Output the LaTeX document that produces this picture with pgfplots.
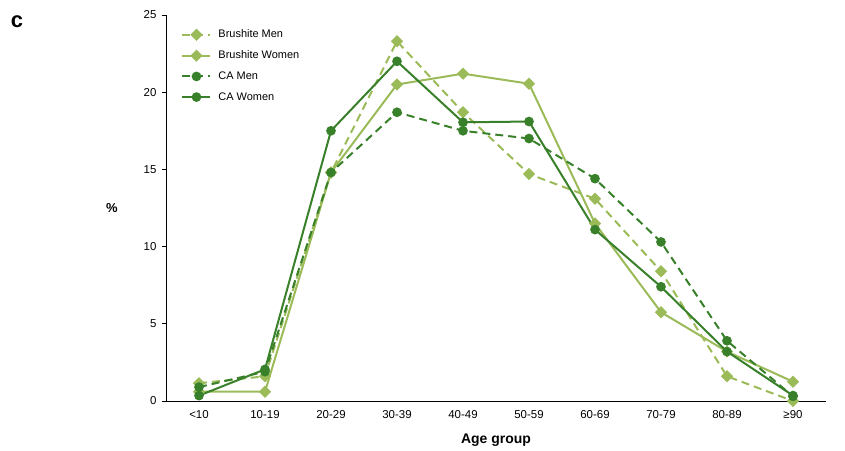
\documentclass[border=0pt]{standalone}
\usepackage{fontspec}
\setmainfont{Liberation Sans}
\usepackage{pgfplots}
\pgfplotsset{compat=1.18}
\definecolor{lightg}{RGB}{155,187,89}
\definecolor{darkg}{RGB}{56,128,42}
\begin{document}
\begin{tikzpicture}
\path[use as bounding box] (0bp,0bp) rectangle (845bp,451bp);
\node[font=\fontsize{22}{24}\selectfont\bfseries] at (17bp,429bp) {c};
\begin{axis}[
  at={(166bp,50bp)}, anchor=south west, scale only axis,
  width=660bp, height=386bp,
  xmin=-0.5, xmax=9.5, ymin=0, ymax=25,
  ytick={0,5,...,25}, xtick={0,...,9},
  xticklabels={<10,10-19,20-29,30-39,40-49,50-59,60-69,70-79,80-89,≥90},
  axis x line=bottom, axis y line=left,
  axis line style={-, line width=0.8bp},
  x tick style={draw=none},
  y tick style={black, line width=0.6bp},
  tick align=outside, major tick length=4bp,
  tick label style={font=\fontsize{11.5}{13}\selectfont},
  yticklabel style={xshift=-2bp},
  xticklabel style={yshift=-2bp},
  /pgf/number format/assume math mode=true,
  xlabel={Age group}, ylabel={\%},
  xlabel style={font=\fontsize{14}{16}\selectfont\bfseries, at={(axis description cs:0.5,-0.101)}, anchor=center},
  ylabel style={font=\fontsize{13}{15}\selectfont\bfseries, rotate=-90, at={(axis description cs:-0.082,0.5)}, anchor=center},
  legend style={draw=none, fill=none, at={(axis description cs:0.005,0.99)}, anchor=north west,
    xshift=9bp, yshift=-7bp,
    font=\fontsize{11}{13}\selectfont, row sep=7.5bp},
  legend cell align=left,
  legend image code/.code={\draw[mark repeat=2,mark phase=2] plot coordinates {(0bp,0bp) (14bp,0bp) (28bp,0bp)}; \path (33bp,0bp);},
  every axis plot/.append style={line width=2bp},
]
\addplot[lightg, dash pattern=on 8bp off 5bp, mark=square*, mark size=3.3bp, mark options={solid, rotate=45}]
 coordinates {(0,1.15) (1,1.6) (2,14.8) (3,23.3) (4,18.7) (5,14.7) (6,13.1) (7,8.4) (8,1.6) (9,0.0)};
\addlegendentry{Brushite Men}
\addplot[lightg, mark=square*, mark size=3.3bp, mark options={rotate=45}]
 coordinates {(0,0.6) (1,0.6) (2,14.8) (3,20.5) (4,21.2) (5,20.55) (6,11.5) (7,5.75) (8,3.2) (9,1.25)};
\addlegendentry{Brushite Women}
\addplot[darkg, dash pattern=on 8bp off 5bp, mark=*, mark size=3.8bp, mark options={solid}]
 coordinates {(0,0.9) (1,1.9) (2,14.8) (3,18.7) (4,17.5) (5,17.0) (6,14.4) (7,10.3) (8,3.9) (9,0.3)};
\addlegendentry{CA Men}
\addplot[darkg, mark=*, mark size=3.8bp]
 coordinates {(0,0.35) (1,2.05) (2,17.5) (3,22.0) (4,18.05) (5,18.1) (6,11.1) (7,7.4) (8,3.2) (9,0.35)};
\addlegendentry{CA Women}
\end{axis}
\end{tikzpicture}
\end{document}
